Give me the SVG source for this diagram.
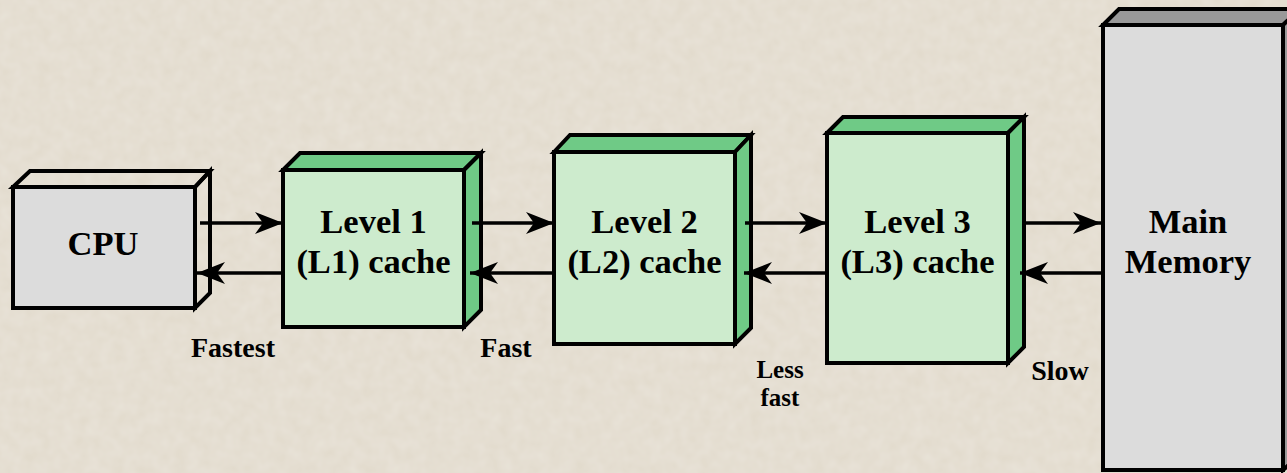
<svg xmlns="http://www.w3.org/2000/svg" width="1287" height="473" viewBox="0 0 1287 473">
<style>
.bg{fill:#e2dbcd}
.edge{stroke:#000;stroke-width:4;stroke-linejoin:miter}
.gface{fill:#cdebcd}
.gdark{fill:#6fca86}
.grey{fill:#dcdcdc}
.greyd{fill:#999999}
.t{font-family:"Liberation Serif",Tinos,"DejaVu Serif",serif;font-weight:bold;fill:#000;text-anchor:middle}
.big{font-size:34.5px}
.lbl{font-size:28px}
.sm{font-size:25px}
.arr{stroke:#000;stroke-width:3.5;fill:none}
</style>
<defs>
<marker id="ah" markerUnits="userSpaceOnUse" viewBox="-30 -13 32 26" refX="0" refY="0" markerWidth="32" markerHeight="26" orient="auto">
<path d="M0,0 L-28,-11 L-20,0 L-28,11 Z" fill="#000"/>
</marker>
<filter id="grain" x="0" y="0" width="100%" height="100%">
<feTurbulence type="fractalNoise" baseFrequency="0.08" numOctaves="2" seed="3" result="n"/>
<feColorMatrix in="n" type="matrix" values="0 0 0 0 0.93  0 0 0 0 0.91  0 0 0 0 0.87  0 0 0 0.35 -0.05" result="c"/>
<feComposite in="c" in2="SourceGraphic" operator="over"/>
</filter>
</defs>
<rect class="bg" x="0" y="0" width="1287" height="473" filter="url(#grain)"/>

<g id="cpu">
<polygon class="edge" fill="none" points="13,187 30,171 210,171 195,187"/>
<polygon class="edge" fill="none" points="195,187 210,171 210,293 195,308"/>
<rect class="edge grey" x="13" y="187" width="182" height="121"/>
<text class="t big" x="103" y="255">CPU</text>
</g>

<g id="l1">
<polygon class="edge gdark" points="283,170 300,153 481,153 464,170"/>
<polygon class="edge gdark" points="464,170 481,153 481,310 464,327"/>
<rect class="edge gface" x="283" y="170" width="181" height="157"/>
<text class="t big" x="373.5" y="233">Level 1</text>
<text class="t big" x="373.5" y="273">(L1) cache</text>
</g>

<g id="l2">
<polygon class="edge gdark" points="554,152 570,135 751,135 735,152"/>
<polygon class="edge gdark" points="735,152 751,135 751,328 735,344"/>
<rect class="edge gface" x="554" y="152" width="181" height="192"/>
<text class="t big" x="644.5" y="233">Level 2</text>
<text class="t big" x="644.5" y="273">(L2) cache</text>
</g>

<g id="l3">
<polygon class="edge gdark" points="827,133 843,117 1024,117 1008,133"/>
<polygon class="edge gdark" points="1008,133 1024,117 1024,347 1008,363"/>
<rect class="edge gface" x="827" y="133" width="181" height="230"/>
<text class="t big" x="917.5" y="233">Level 3</text>
<text class="t big" x="917.5" y="273">(L3) cache</text>
</g>

<g id="mainmem">
<polygon class="edge greyd" points="1103,25 1119,9 1300,9 1283,25"/>
<polygon class="edge greyd" points="1283,25 1300,9 1300,455 1283,470"/>
<rect class="edge grey" x="1103" y="25" width="180" height="445"/>
<text class="t big" x="1188" y="233">Main</text>
<text class="t big" x="1188" y="273">Memory</text>
</g>

<g id="connectors">
<line class="arr" x1="200" y1="223" x2="283" y2="223" marker-end="url(#ah)"/>
<line class="arr" x1="283" y1="273" x2="197" y2="273" marker-end="url(#ah)"/>
<line class="arr" x1="472" y1="223" x2="554" y2="223" marker-end="url(#ah)"/>
<line class="arr" x1="554" y1="273" x2="470" y2="273" marker-end="url(#ah)"/>
<line class="arr" x1="745" y1="223" x2="827" y2="223" marker-end="url(#ah)"/>
<line class="arr" x1="827" y1="273" x2="744" y2="273" marker-end="url(#ah)"/>
<line class="arr" x1="1022" y1="223" x2="1101" y2="223" marker-end="url(#ah)"/>
<line class="arr" x1="1101" y1="273" x2="1020" y2="273" marker-end="url(#ah)"/>
</g>

<g id="labels">
<text class="t lbl" x="233" y="357">Fastest</text>
<text class="t lbl" x="506" y="357">Fast</text>
<text class="t sm" x="780" y="378">Less</text>
<text class="t sm" x="780" y="406">fast</text>
<text class="t lbl" x="1060" y="380">Slow</text>
</g>
</svg>
